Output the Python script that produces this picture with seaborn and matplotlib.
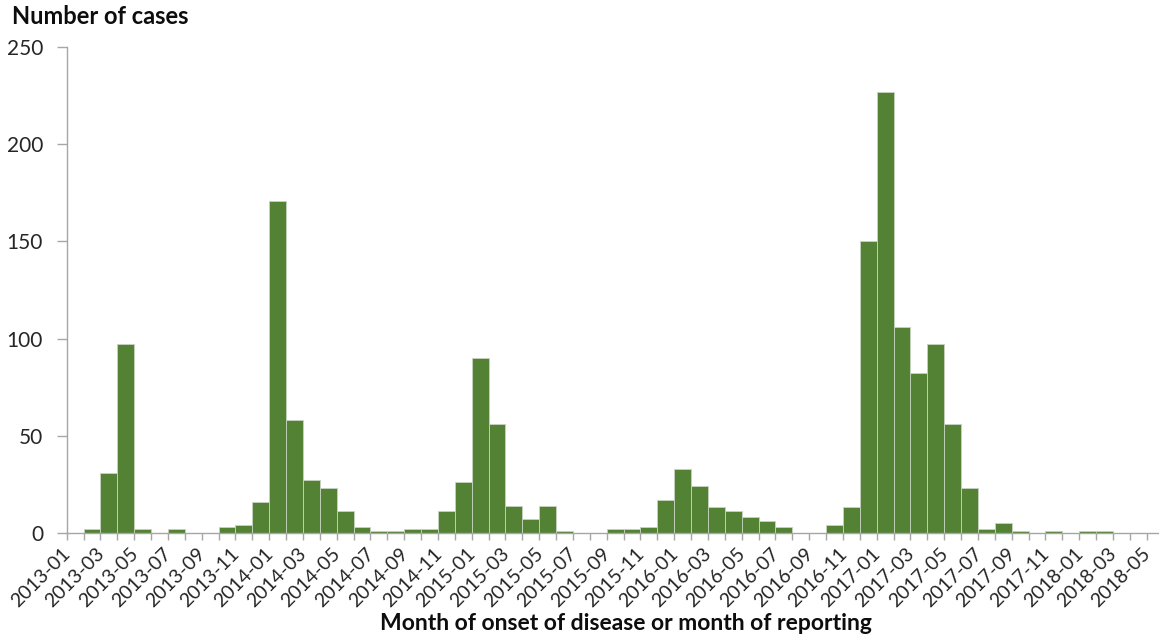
import matplotlib
matplotlib.use("Agg")
import matplotlib.pyplot as plt
import seaborn as sns
import pandas as pd
import numpy as np

months = [f"{y}-{m:02d}" for y in range(2013, 2019) for m in range(1, 13)][:65]
cases = [0, 2, 31, 97, 2, 0, 2, 0, 0, 3, 4, 16,
         171, 58, 27, 23, 11, 3, 1, 1, 2, 2, 11, 26,
         90, 56, 14, 7, 14, 1, 0, 0, 2, 2, 3, 17,
         33, 24, 13, 11, 8, 6, 3, 0, 0, 4, 13, 150,
         227, 106, 82, 97, 56, 23, 2, 5, 1, 0, 1, 0,
         1, 1, 0, 0, 0]
y_ticks = [0, 50, 100, 150, 200, 250]
y_title = "Number of cases"
x_title = "Month of onset of disease or month of reporting"

df = pd.DataFrame({"month": months, "cases": cases})

sns.set_theme(style="white")
plt.rcParams['font.family'] = ['Lato', 'DejaVu Sans']

fig = plt.figure(figsize=(11.59, 6.39), dpi=100)
W, H = 1159, 639
slot = 16.875          # pixel width of one month
extra = 0.85           # extra room (in slots) left of the y axis for the first label
x0 = 66.7 - extra * slot
x1 = 1163.6
y0, y1 = 532.7, 47.3
ax = fig.add_axes([x0 / W, 1 - y0 / H, (x1 - x0) / W, (y0 - y1) / H])

sns.barplot(data=df, x="month", y="cases", color="#548235", saturation=1,
            width=1.0, edgecolor="#c9d3c2", linewidth=0.6, ax=ax)

for s in ["top", "right"]:
    ax.spines[s].set_visible(False)
ax.spines["left"].set_position(("data", -0.5))
ax.spines["bottom"].set_bounds(-0.5, len(months) - 0.5)
for s in ["left", "bottom"]:
    ax.spines[s].set_color("#a6a6a6")
    ax.spines[s].set_linewidth(1)

# label anchors nudged left so the rotated text's right end sits near the slot centre
shift = 0.8
pos = list(range(0, len(months), 2))
ax.set_xticks([p - shift for p in pos])
ax.set_xticklabels([months[i] for i in pos], rotation=45, ha="right",
                   rotation_mode="anchor", fontsize=14, color="#262626")
ax.set_xticks(np.arange(-0.5, len(months), 1), minor=True)
ax.set_xlim(-0.5 - extra, len(months) - 0.5)
ax.set_ylim(0, 250)
ax.set_yticks(y_ticks)
ax.set_yticklabels([str(v) for v in y_ticks], fontsize=15, color="#262626")

ax.tick_params(axis="x", which="major", length=0, pad=9)
ax.tick_params(axis="x", which="minor", length=5, width=1, color="#a6a6a6", direction="out")
ax.tick_params(axis="y", which="major", length=7, width=1, color="#a6a6a6",
               direction="out", pad=10, labelsize=15, labelcolor="#262626")
ax.xaxis.set_ticks_position("bottom")
ax.yaxis.set_ticks_position("left")

ax.set_xlabel("")
ax.set_ylabel("")

fig.text(12 / W, 1 - 17 / H, y_title, fontsize=17, fontweight="bold",
         ha="left", va="center", color="#0d0d0d")
fig.text(626 / W, 1 - 624 / H, x_title, fontsize=16.5, fontweight="bold",
         ha="center", va="center", color="#0d0d0d")

fig.savefig("out.png", dpi=100, facecolor="white")
